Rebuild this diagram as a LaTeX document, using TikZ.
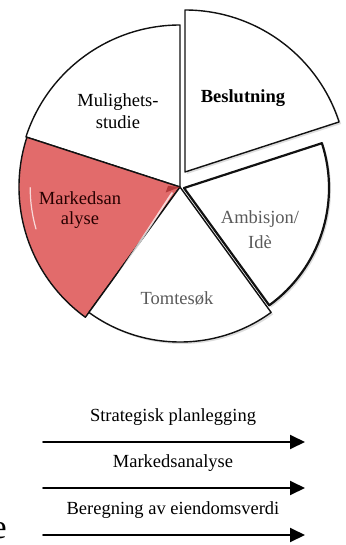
\documentclass[tikz,border=0pt]{standalone}
\usepackage{fontspec}
\setmainfont{Liberation Serif}
\usetikzlibrary{arrows.meta}
\definecolor{sliceedge}{HTML}{111111}
\definecolor{marketred}{HTML}{E26B6B}
\definecolor{marketdark}{HTML}{B23A3A}
\definecolor{greytext}{HTML}{5A5A5A}

\begin{document}
\begin{tikzpicture}[
  x=1pt,
  y=1pt,
  line join=round,
  line cap=round,
  slice/.style={draw=sliceedge,line width=1.4pt,fill=white},
  thick slice/.style={slice,line width=2.2pt},
  shade/.style={fill=black!22,draw=none,opacity=0.6},
  gloss/.style={draw=white,opacity=0.75,line width=1.8pt},
  label/.style={font=\fontsize{18.5}{22}\selectfont,align=center,inner sep=0pt},
  flow/.style={draw=black,line width=1.9pt,-{Triangle[length=15pt,width=14pt]}}
]
  \useasboundingbox (0,0) rectangle (345,-545);
  \clip (0,0) rectangle (345,-545);

  % Pie centre; Beslutning and Ambisjon are pulled out a little.
  \coordinate (C) at (180,-187);
  \coordinate (Cbes) at (185,-172);
  \coordinate (Camb) at (184,-188);

  % Soft drop shadows.
  \path[shade] ([shift={(2,-2)}]Cbes) -- ++(90:162) arc[start angle=90,end angle=18,radius=162] -- cycle;
  \path[shade] ([shift={(2,-2)}]Camb) -- ++(18:145) arc[start angle=18,end angle=-54,radius=145] -- cycle;
  \path[shade] ([shift={(2,-2)}]C) -- ++(234:155) arc[start angle=234,end angle=306,radius=155] -- cycle;

  % Slices, 72 degrees each.
  \draw[slice] (C) -- ++(90:162) arc[start angle=90,end angle=162,radius=162] -- cycle;
  \draw[slice,fill=marketred] (C) -- ++(162:161) arc[start angle=162,end angle=234,radius=161] -- cycle;
  \draw[slice] (C) -- ++(234:155) arc[start angle=234,end angle=306,radius=155] -- cycle;
  \draw[thick slice] (Camb) -- ++(18:145) arc[start angle=18,end angle=-54,radius=145] -- cycle;
  \draw[slice] (Cbes) -- ++(90:162) arc[start angle=90,end angle=18,radius=162] -- cycle;

  % Glossy highlights on the red slice.
  \fill[marketdark] (C) -- ++(175:12) -- ++(250:7) -- cycle;
  \draw[gloss] ([shift={(-8,-6)}]C) -- ([shift={(-84,-122)}]C);
  \draw[gloss,line width=1.2pt] ([shift={(-144,-42)}]C) arc[start angle=196,end angle=180,radius=150];

  % Slice labels.
  \node[label] (mul) at (118,-111) {Mulighets-\\studie};
  \node[label,font=\fontsize{18.5}{22}\selectfont\bfseries] (bes) at (243,-98) {Beslutning};
  \node[label,text=black!85!red,font=\fontsize{18.5}{20}\selectfont] (mar) at (80,-210) {Markedsan\\alyse};
  \node[label,text=greytext,font=\fontsize{18.5}{25}\selectfont] (amb) at (260,-230) {Ambisjon/\\Idè};
  \node[label,text=greytext] (tom) at (177,-298) {Tomtesøk};

  % Process arrows below the pie.
  \foreach \i/\y/\txt in {1/442/Strategisk planlegging,2/488/Markedsanalyse,3/535/Beregning av eiendomsverdi} {
    \coordinate (from\i) at (43,-\y);
    \coordinate (to\i) at (305,-\y);
    \draw[flow] (from\i) -- (to\i);
    \node[label] (step\i) at (173,-\y+25) {\txt};
  }

  % Cut-off letter at the left edge.
  \node[font=\fontsize{34}{36}\selectfont,anchor=base east,inner sep=0pt] (frag) at (7,-538) {e};
\end{tikzpicture}
\end{document}
